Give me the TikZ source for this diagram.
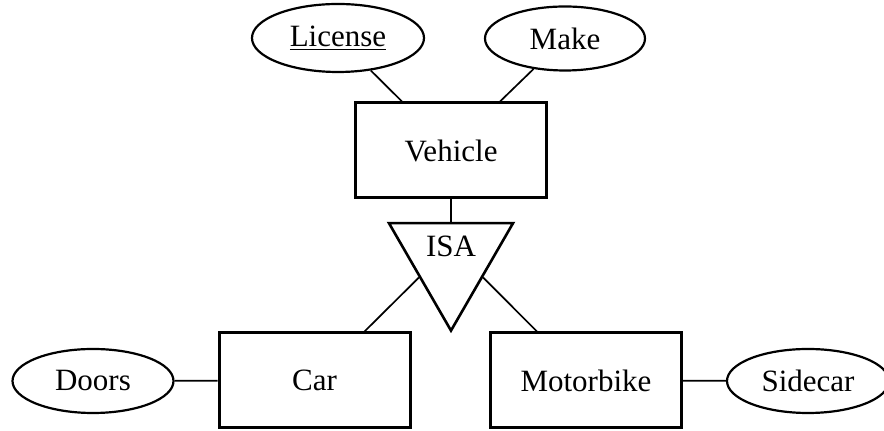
\documentclass[tikz,border=0pt]{standalone}
\usepackage{fontspec}
\setmainfont{Liberation Serif}
\usetikzlibrary{shapes.geometric,calc}

\begin{document}
\begin{tikzpicture}[x=0.5pt,y=-0.5pt,
    every node/.style={font=\fontsize{15.5}{18}\selectfont},
    entity/.style={draw,line width=1.5pt,minimum width=95.5pt,minimum height=47.5pt},
    attrib/.style={draw,ellipse,line width=1.1pt,minimum height=32pt,inner sep=0pt},
    isabox/.style={draw,regular polygon,regular polygon sides=3,shape border rotate=180,
                   line width=1.3pt,minimum size=71.6pt,inner sep=0pt},
    link/.style={line width=0.85pt}]
  \useasboundingbox (0,0) rectangle (884,431);
  % entities
  \node[entity] (veh) at (451,150.5) {Vehicle};
  \node[entity] (car) at (314.5,380.5) {Car};
  \node[entity] (mb) at (586,380.5) {Motorbike};
  % attributes
  \node[attrib, minimum width=86pt, minimum height=34pt] (lic) at (338,38) {\underline{License}};
  \node[attrib, minimum width=80pt] (mk) at (565,38.5) {Make};
  \node[attrib, minimum width=80.5pt] (doors) at (93,381) {Doors};
  \node[attrib, minimum width=81pt] (side) at (808,381) {Sidecar};
  % isa
  \node[isabox] (isa) at (451,259) {};
  \node (isatext) at ($(isa)+(0,-13)$) {ISA};
  % links
  \draw[link] (lic) -- ($(veh.north)+(-49,0)$);
  \draw[link] (mk) -- ($(veh.north)+(49,0)$);
  \draw[link] (veh) -- (isa);
  \draw[link] ($(isa.corner 3)!0.5!(isa.corner 1)$) -- ($(car.north)+(50,0)$);
  \draw[link] ($(isa.corner 2)!0.5!(isa.corner 1)$) -- ($(mb.north)+(-49,0)$);
  \draw[link] (doors) -- (car);
  \draw[link] (mb) -- (side);
\end{tikzpicture}
\end{document}
